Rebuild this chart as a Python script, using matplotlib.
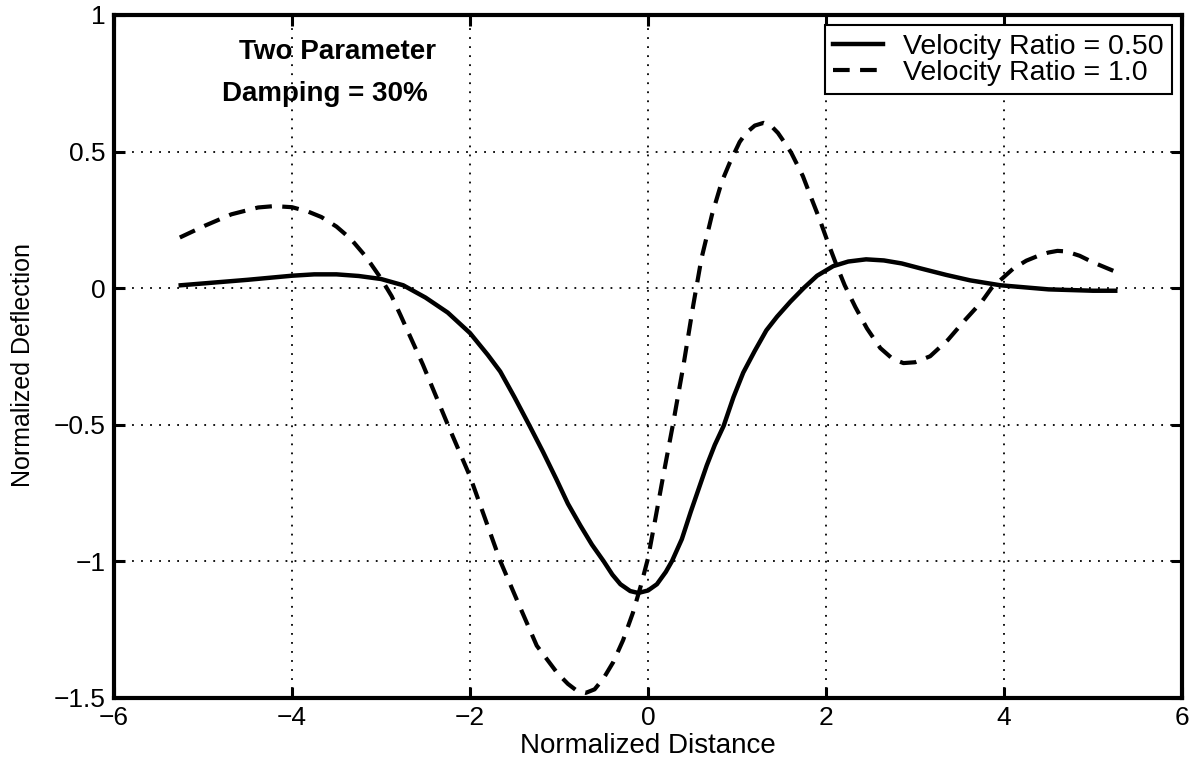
import matplotlib
matplotlib.use("Agg")
import matplotlib.pyplot as plt

plt.rcParams['font.family'] = ['Liberation Sans', 'DejaVu Sans']

# Velocity ratio = 0.50 (solid)
x_050 = [-5.25, -4.5, -4.0, -3.75, -3.5, -3.25, -3.0, -2.75, -2.5, -2.25, -2.0, -1.8,
         -1.66, -1.5, -1.33, -1.18, -1.03, -0.9, -0.76, -0.63, -0.5, -0.4, -0.31, -0.2,
         -0.11, 0.0, 0.10, 0.2, 0.27, 0.38, 0.48, 0.57, 0.66, 0.75, 0.85, 0.96,
         1.07, 1.2, 1.33, 1.45, 1.6, 1.75, 1.9, 2.08, 2.25, 2.45, 2.65, 2.85,
         3.06, 3.35, 3.62, 3.96, 4.5, 5.0, 5.25]
y_050 = [0.01, 0.03, 0.045, 0.05, 0.05, 0.044, 0.033, 0.01, -0.035, -0.09, -0.165, -0.245,
         -0.306, -0.4, -0.505, -0.6, -0.70, -0.79, -0.87, -0.94, -1.0, -1.05, -1.085, -1.11,
         -1.117, -1.108, -1.085, -1.04, -1.0, -0.92, -0.82, -0.735, -0.65, -0.575, -0.505, -0.40,
         -0.31, -0.23, -0.155, -0.105, -0.05, 0.0, 0.045, 0.08, 0.097, 0.105, 0.101, 0.09,
         0.072, 0.048, 0.028, 0.01, -0.005, -0.01, -0.01]

# Velocity ratio = 1.0 (dashed)
x_100 = [-5.26, -4.98, -4.68, -4.38, -4.2, -4.0, -3.82, -3.67, -3.5, -3.34, -3.17, -3.0,
         -2.88, -2.78, -2.53, -2.25, -2.0, -1.66, -1.45, -1.25, -1.02, -0.9, -0.8, -0.7,
         -0.6, -0.5, -0.39, -0.28, -0.17, -0.08, 0.0, 0.08, 0.17, 0.28, 0.40, 0.51,
         0.60, 0.72, 0.83, 0.92, 1.03, 1.1, 1.2, 1.3, 1.38, 1.46, 1.54, 1.61,
         1.74, 1.84, 1.93, 2.02, 2.12, 2.21, 2.33, 2.46, 2.61, 2.75, 2.87, 3.0,
         3.17, 3.37, 3.56, 3.75, 3.86, 4.1, 4.25, 4.4, 4.5, 4.6, 4.7, 4.85, 5.0, 5.25]
y_100 = [0.185, 0.228, 0.27, 0.295, 0.30, 0.296, 0.28, 0.26, 0.225, 0.18, 0.115, 0.035,
         -0.03, -0.10, -0.28, -0.5, -0.69, -1.0, -1.16, -1.31, -1.41, -1.45, -1.475, -1.483,
         -1.47, -1.43, -1.37, -1.29, -1.19, -1.09, -0.99, -0.85, -0.69, -0.5, -0.28, -0.06,
         0.107, 0.27, 0.39, 0.46, 0.535, 0.567, 0.595, 0.605, 0.595, 0.568, 0.53, 0.495,
         0.41, 0.325, 0.25, 0.168, 0.082, 0.01, -0.07, -0.148, -0.22, -0.26, -0.275, -0.272,
         -0.25, -0.19, -0.118, -0.05, 0.0, 0.07, 0.10, 0.12, 0.13, 0.136, 0.134, 0.118, 0.094, 0.06]

labels = ['Velocity Ratio = 0.50', 'Velocity Ratio = 1.0']
fs = 19

fig = plt.figure(figsize=(12.01, 7.65), dpi=100)
ax = fig.add_axes([0.0949, 0.0882, 0.8893, 0.8922])

ax.plot(x_050, y_050, color='black', lw=3.2, solid_joinstyle='round', label=labels[0])
ax.plot(x_100, y_100, color='black', lw=3.0, linestyle=(0, (4, 2.5)),
        dash_joinstyle='round', label=labels[1])

ax.set_xlim(-6, 6)
ax.set_ylim(-1.5, 1)
ax.set_xticks([-6, -4, -2, 0, 2, 4, 6])
ax.set_yticks([-1.5, -1, -0.5, 0, 0.5, 1])
ax.set_yticklabels(['\u22121.5', '\u22121', '\u22120.5', '0', '0.5', '1'])
ax.grid(True, color='black', lw=1.3, linestyle=(0, (1, 4)))
ax.tick_params(direction='in', length=8, width=2.2, top=True, right=True,
               labelsize=fs, pad=6)
for s in ax.spines.values():
    s.set_linewidth(3)

ax.set_xlabel('Normalized Distance', fontsize=20, labelpad=2)
fig.text(23 / 1201, 1 - 365 / 765, 'Normalized Deflection', fontsize=18,
         rotation=90, ha='center', va='center')

ax.text(-3.49, 0.864, 'Two Parameter', fontsize=20, fontweight='bold',
        ha='center', va='center')
ax.text(-3.63, 0.71, 'Damping = 30%', fontsize=20, fontweight='bold',
        ha='center', va='center')

leg = ax.legend(loc='upper right', bbox_to_anchor=(0.9906, 0.9853), borderaxespad=0,
                fontsize=20.5, fancybox=False, framealpha=1, edgecolor='black',
                handlelength=1.75, handletextpad=0.7, labelspacing=0.0,
                borderpad=0.3)
leg.get_frame().set_linewidth(1.5)

fig.savefig('out.png', dpi=100)
